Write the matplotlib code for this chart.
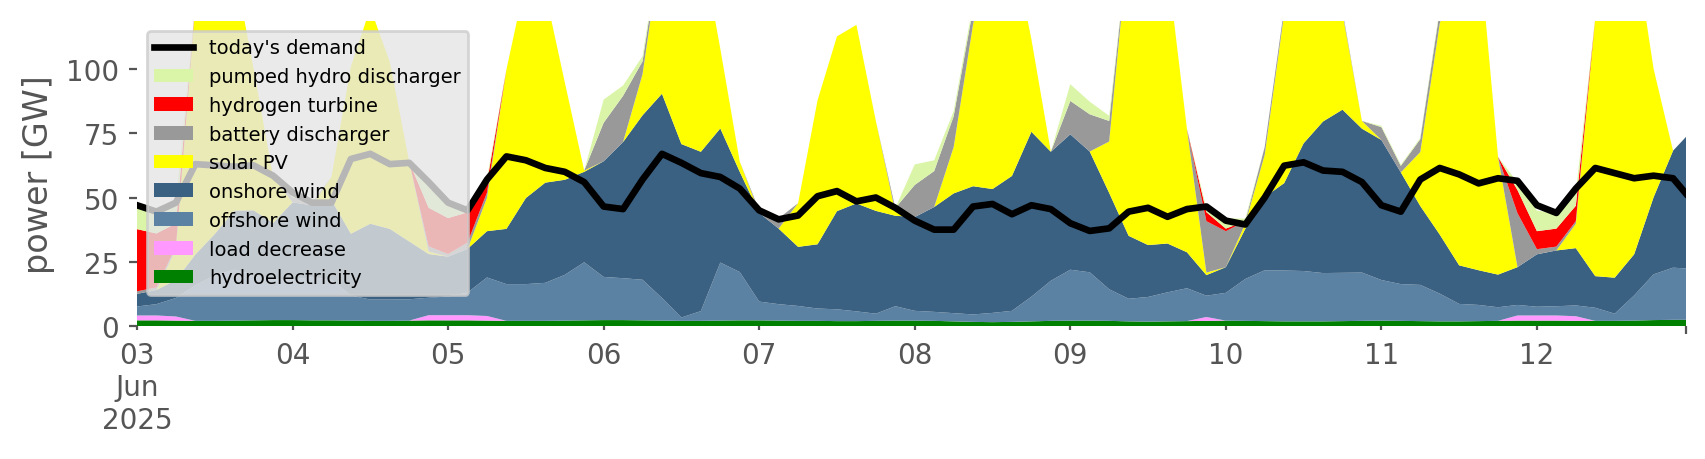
import matplotlib
matplotlib.use("Agg")
import matplotlib.pyplot as plt
import pandas as pd

# 3-hourly readings, 3 Jun 00:00 .. 12 Jun 21:00, plus the last hour (12 Jun 23:00)
times = pd.date_range("2025-06-03 00:00", periods=80, freq="3h").append(
    pd.DatetimeIndex(["2025-06-12 23:00"]))

# GW, one row per day (8 readings), last value = 12 Jun 23:00
hydro = [2.2, 2.2, 2.1, 2.0, 2.0, 2.1, 2.2, 2.3,
         2.3, 2.2, 2.2, 2.1, 2.0, 2.0, 2.1, 2.2,
         2.2, 2.2, 2.1, 2.0, 2.0, 2.0, 2.1, 2.2,
         2.3, 2.3, 2.2, 2.1, 2.0, 2.0, 2.1, 2.2,
         2.2, 2.1, 2.0, 2.0, 1.9, 1.9, 2.0, 2.1,
         2.1, 2.0, 1.8, 1.6, 1.5, 1.6, 1.8, 2.0,
         2.1, 2.1, 2.0, 1.8, 1.7, 1.8, 1.9, 2.0,
         2.1, 2.0, 1.9, 1.8, 1.8, 1.8, 1.9, 2.0,
         2.1, 2.0, 1.9, 1.8, 1.8, 1.9, 2.0, 2.1,
         2.1, 2.1, 2.0, 2.0, 2.0, 2.1, 2.3, 2.4,
         2.4]
load_decrease = [1.9, 1.9, 1.6, 0, 0, 0, 0, 0,
                 0, 0, 0, 0, 0, 0, 0, 2.0,
                 2.0, 2.0, 1.8, 0, 0, 0, 0, 0,
                 0, 0, 0, 0, 0, 0, 0, 0,
                 0, 0, 0, 0, 0, 0, 0, 0,
                 0, 0, 0, 0, 0, 0, 0, 0,
                 0, 0, 0, 0, 0, 0, 0, 1.5,
                 0, 0, 0, 0, 0, 0, 0, 0,
                 0, 0, 0, 0, 0, 0, 0, 2.0,
                 2.0, 2.0, 1.8, 0, 0, 0, 0, 0,
                 0]
offshore = [3.5, 4.4, 7.2, 13.8, 17.8, 19.8, 17.8, 15.8,
            15.8, 16.8, 15.8, 9.8, 8.3, 8.3, 8.3, 6.8,
            7.3, 8.8, 15.0, 14.3, 14.3, 14.8, 17.8, 22.6,
            16.8, 16.3, 15.8, 8.8, 1.3, 3.8, 22.6, 18.8,
            7.3, 6.4, 5.8, 4.8, 4.6, 3.8, 2.8, 5.6,
            3.8, 3.5, 3.2, 2.9, 3.6, 4.3, 9.6, 15.6,
            19.8, 18.8, 12.3, 8.8, 9.6, 11.3, 12.8, 8.3,
            10.8, 16.3, 19.8, 19.8, 19.6, 18.8, 18.8, 18.8,
            15.8, 14.3, 14.1, 10.8, 6.8, 6.3, 5.3, 4.1,
            3.4, 3.6, 4.2, 5.1, 2.8, 9.8, 17.8, 20.3,
            20.0]
onshore = [4.9, 5.5, 7.0, 12, 16, 23, 25, 22,
           30, 28, 31, 24, 29.5, 27.5, 22.5, 17,
           15.5, 17, 18, 21.5, 33.5, 39, 37, 35.2,
           45, 53, 64, 79.5, 67.5, 62, 52.2, 39,
           34.5, 29.4, 23, 25, 38.2, 42, 40, 35.2,
           36.5, 40.8, 46.6, 49.9, 48.2, 52.5, 64.2, 50.2,
           52.7, 47, 37.5, 24.5, 20.2, 19, 14, 8,
           10, 19.5, 28.5, 34, 49.7, 59, 63.5, 56,
           54.5, 43.5, 30.7, 23, 15, 13.5, 12.7, 14.7,
           20.4, 21.7, 22.3, 12.3, 14, 16, 30, 45.5,
           51.2]
solar = [0, 0, 12, 97, 124, 95, 55, 18,
         0, 0, 9, 65, 84, 65, 31, 1,
         0, 0, 13, 62, 85, 74, 38, 0.5,
         0, 0, 16, 59.5, 79, 82, 31, 4,
         0, 0, 17, 56, 68, 69.5, 35, 1.5,
         0, 0, 18, 63, 96, 91, 36, 0,
         0, 0, 20, 114.5, 118, 107.5, 48, 1,
         0, 2, 16.5, 66, 78.5, 70, 37.5, 3,
         0, 0, 21, 82, 126, 128, 45.8, 0,
         0, 0, 9.5, 100.4, 131, 122, 50, 0,
         0]
battery = [1, 1, 1, 0, 0, 0, 0, 0,
           2, 1, 0, 0, 0, 0, 0, 2,
           1, 2.5, 2, 0, 0, 0, 0, 0,
           15, 18, 5, 2, 0, 0, 0, 0,
           1, 4, 0, 0, 0, 0, 0, 1.5,
           12.5, 14, 12, 6, 0, 0, 0, 0,
           13, 14.5, 8, 0, 0, 0, 0, 20,
           14, 1, 3, 2, 0, 0, 1, 0,
           5, 2.5, 5, 5, 0, 0, 0, 21,
           2, 1.5, 1, 0, 0, 0, 0, 0,
           0]
hydrogen = [24.2, 21, 9, 0, 0, 0, 0, 0,
            0, 0, 0, 0, 0, 0, 0, 15,
            14, 11.7, 4, 0, 0, 0, 0, 0,
            0, 0, 0, 0, 0, 0, 0, 0,
            0, 0, 0, 0, 0, 0, 0, 0,
            0, 0, 0, 0, 0, 0, 0, 0,
            0, 0, 0, 0, 0, 0, 0, 3.5,
            1, 0, 0, 0, 0, 0, 0, 0,
            0, 0, 0, 0, 0, 0, 0, 9,
            7, 7, 6, 0, 0, 0, 0, 0,
            0]
pumped_hydro = [8.8, 8.5, 8, 0, 0, 0, 0, 0,
                2, 0, 0, 0, 0, 0, 0, 10,
                6, 1.3, 1.5, 0, 0, 0, 0, 0,
                9, 4, 2, 1, 0, 0, 0, 0,
                0, 0, 0, 0, 0, 0, 0, 0,
                8, 4.2, 2, 2, 0, 0, 0, 0,
                6.5, 4.9, 2, 0, 0, 0, 0, 1.5,
                4, 1, 0, 0, 0, 0, 0, 0,
                0.5, 0.5, 0.5, 1, 0, 0, 0, 3,
                8, 6, 5, 0, 0, 0, 0, 0,
                0]
demand = [47, 44.5, 48, 63, 62.5, 62, 62.5, 58.5,
          52, 48, 48, 65, 67, 63, 63.5, 56,
          48, 45, 57, 66, 64.5, 61.5, 60, 56,
          46.5, 45.5, 57, 67, 63.5, 59.5, 58, 53.5,
          45, 41.5, 43, 50.5, 52.5, 48.5, 50, 46,
          41, 37.5, 37.5, 46.5, 47.5, 43.5, 47, 45.5,
          40, 37, 38, 44.5, 46, 42.5, 45.5, 46.5,
          41, 39.5, 50, 62.4, 63.7, 60.5, 60, 56,
          47, 44.5, 57, 61.5, 59, 55.5, 57.5, 56.5,
          47, 44, 53.5, 61.5, 59.5, 57.5, 58.5, 57.5,
          51.5]

carriers = ["hydroelectricity", "load decrease", "offshore wind", "onshore wind",
            "solar PV", "battery discharger", "hydrogen turbine", "pumped hydro discharger"]
colors = ["#008000", "#ff99ff", "#5b82a3", "#3b6182",
          "#ffff00", "#999999", "#ff0000", "#dbf5a8"]

grey = "#555555"
fig = plt.figure(figsize=(8.53, 2.3), dpi=200)
ax = fig.add_axes([137 / 1706, 1 - 327 / 460, 1549 / 1706, 305 / 460])

x = times.to_numpy()
ax.stackplot(x, hydro, load_decrease, offshore, onshore, solar, battery, hydrogen,
             pumped_hydro, colors=colors, labels=carriers, linewidth=0)
ax.plot(x, demand, color="black", lw=2.4, label="today's demand")

ax.set_xlim(x[0], x[-1])
ax.set_ylim(0, 118.7)
for s in ax.spines.values():
    s.set_visible(False)

days = pd.date_range("2025-06-03", "2025-06-12", freq="D")
ax.set_xticks(days.to_numpy())
ax.set_xticklabels(["03\nJun\n2025"] + [d.strftime("%d") for d in days[1:]])
ax.set_xticks([x[-1]], minor=True)
ax.set_yticks([0, 25, 50, 75, 100])
ax.tick_params(axis="x", which="major", length=1.3, width=0.8, colors=grey, labelsize=10, pad=4)
ax.tick_params(axis="x", which="minor", length=2.8, width=0.8, colors=grey)
ax.tick_params(axis="y", length=3, width=0.8, colors=grey, labelsize=10)
ax.set_ylabel("power [GW]", fontsize=12, color=grey)

h, l = ax.get_legend_handles_labels()
order = [len(h) - 1] + list(range(len(h) - 2, -1, -1))
ax.legend([h[i] for i in order], [l[i] for i in order], loc="upper left", fontsize=7,
          facecolor="#e5e5e5", edgecolor="0.8", framealpha=0.8)

fig.savefig("out.png", dpi=200)
